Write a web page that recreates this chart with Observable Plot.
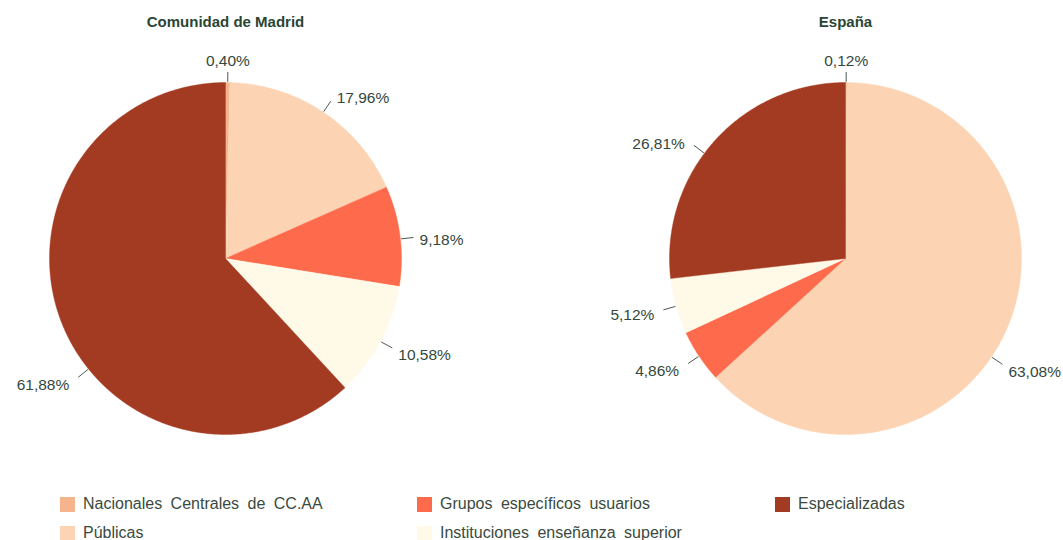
<!DOCTYPE html>
<html><head><meta charset="utf-8">
<script src="https://cdn.jsdelivr.net/npm/d3@7"></script>
<script src="https://cdn.jsdelivr.net/npm/@observablehq/plot@0.6"></script>
<style>
body{margin:0;background:#fff;font-family:"Liberation Sans",Arial,sans-serif;}
#wrap{position:relative;width:1063px;height:540px;overflow:hidden;}
#legend{position:absolute;left:0;top:480px;width:1063px;height:60px;}
.item{position:absolute;display:flex;align-items:center;height:20px;font-size:16px;color:#3a4a40;word-spacing:4px;white-space:nowrap;}
.sw{width:15px;height:15px;margin-right:8px;flex:none;}
</style></head><body><div id="wrap"><div id="chart"></div><div id="legend"></div></div>
<script>
// ---- data ----
const regions = ["Comunidad de Madrid", "España"];
const categories = ["Nacionales Centrales de CC.AA", "Públicas", "Grupos específicos usuarios", "Instituciones enseñanza superior", "Especializadas"];
const madridValues = [0.40, 17.96, 9.18, 10.58, 61.88];
const espanaValues = [0.12, 63.08, 4.86, 5.12, 26.81];
const colors = ["#f5b48c", "#fcd4b4", "#fe6a4c", "#fffae8", "#a33b22"];

// ---- layout ----
const W = 1063, H = 480;
const pxPerUnit = 176;          // pie radius in pixels
const firstCenterPx = 225, centerYPx = 258, pieSpacingPx = 620;
const labelNudgeDeg = [[0, 0, 1, 0, -17.5], [0, 10, 0, 0, -5]]; // label placement tweaks
const seriesByRegion = [madridValues, espanaValues];

const fmt = v => v.toFixed(2).replace(".", ",") + "%";

const polys = [], leaders = [], labels = [], titles = [];
seriesByRegion.forEach((values, r) => {
  const cx = r * pieSpacingPx / pxPerUnit;
  titles.push({x: cx, y: (centerYPx - 22) / pxPerUnit, text: regions[r]});
  const total = d3.sum(values);
  let cum = 0;
  values.forEach((v, i) => {
    const a0 = cum / total * 2 * Math.PI; cum += v; const a1 = cum / total * 2 * Math.PI;
    const key = r + "-" + i, cat = categories[i];
    const n = Math.max(2, Math.ceil((a1 - a0) / (Math.PI / 360)));
    polys.push({key, cat, x: cx, y: 0});
    for (let k = 0; k <= n; k++) {
      const a = a0 + (a1 - a0) * k / n;
      polys.push({key, cat, x: cx + Math.sin(a), y: Math.cos(a)});
    }
    polys.push({key, cat, x: cx, y: 0});
    const am = (a0 + a1) / 2 + labelNudgeDeg[r][i] * Math.PI / 180;
    const s = Math.sin(am), c = Math.cos(am);
    const top = Math.abs(s) < 0.2 && c > 0;
    const r2 = top ? 1.06 : 1.075;
    leaders.push({x1: cx + 1.004 * s, y1: 1.004 * c, x2: cx + r2 * s, y2: r2 * c});
    const side = top ? "top" : (s > 0 ? "right" : "left");
    const dxPx = side === "right" ? 6 : side === "left" ? -9 : 0;
    const dyPx = top ? -11 : 3 - 8 * c;
    labels.push({x: cx + r2 * s + dxPx / pxPerUnit, y: r2 * c - dyPx / pxPerUnit, text: fmt(v), side});
  });
});

const textFill = "#34483c";
const labelSize = 15.5;
const chart = Plot.plot({
  width: W, height: H,
  margin: 0,
  style: {fontFamily: '"Liberation Sans", Arial, sans-serif', background: "#fff"},
  x: {domain: [-firstCenterPx / pxPerUnit, (W - firstCenterPx) / pxPerUnit], axis: null},
  y: {domain: [-(H - centerYPx) / pxPerUnit, centerYPx / pxPerUnit], axis: null},
  color: {domain: categories, range: colors},
  marks: [
    Plot.line(polys, {x: "x", y: "y", z: "key", fill: "cat", stroke: "cat", strokeWidth: 0.4, curve: "linear"}),
    Plot.link(leaders, {x1: "x1", y1: "y1", x2: "x2", y2: "y2", stroke: "#4a5a50", strokeWidth: 1}),
    Plot.text(labels.filter(d => d.side === "right"), {x: "x", y: "y", text: "text", textAnchor: "start", fontSize: labelSize, fill: textFill}),
    Plot.text(labels.filter(d => d.side === "left"), {x: "x", y: "y", text: "text", textAnchor: "end", fontSize: labelSize, fill: textFill}),
    Plot.text(labels.filter(d => d.side === "top"), {x: "x", y: "y", text: "text", textAnchor: "middle", fontSize: labelSize, fill: textFill}),
    Plot.text(titles, {x: "x", y: "y", text: "text", fontSize: 15, fontWeight: "bold", fill: "#2a4534", wordSpacing: 5})
  ]
});
document.getElementById("chart").appendChild(chart);

// ---- legend ----
const legend = document.getElementById("legend");
const colLeft = [60, 417, 775], rowTop = [14, 43];
categories.forEach((cat, i) => {
  const el = document.createElement("div");
  el.className = "item";
  el.style.left = colLeft[Math.floor(i / 2)] + "px";
  el.style.top = rowTop[i % 2] + "px";
  el.innerHTML = `<span class="sw" style="background:${colors[i]}"></span><span>${cat}</span>`;
  legend.appendChild(el);
});
</script>
</body></html>
